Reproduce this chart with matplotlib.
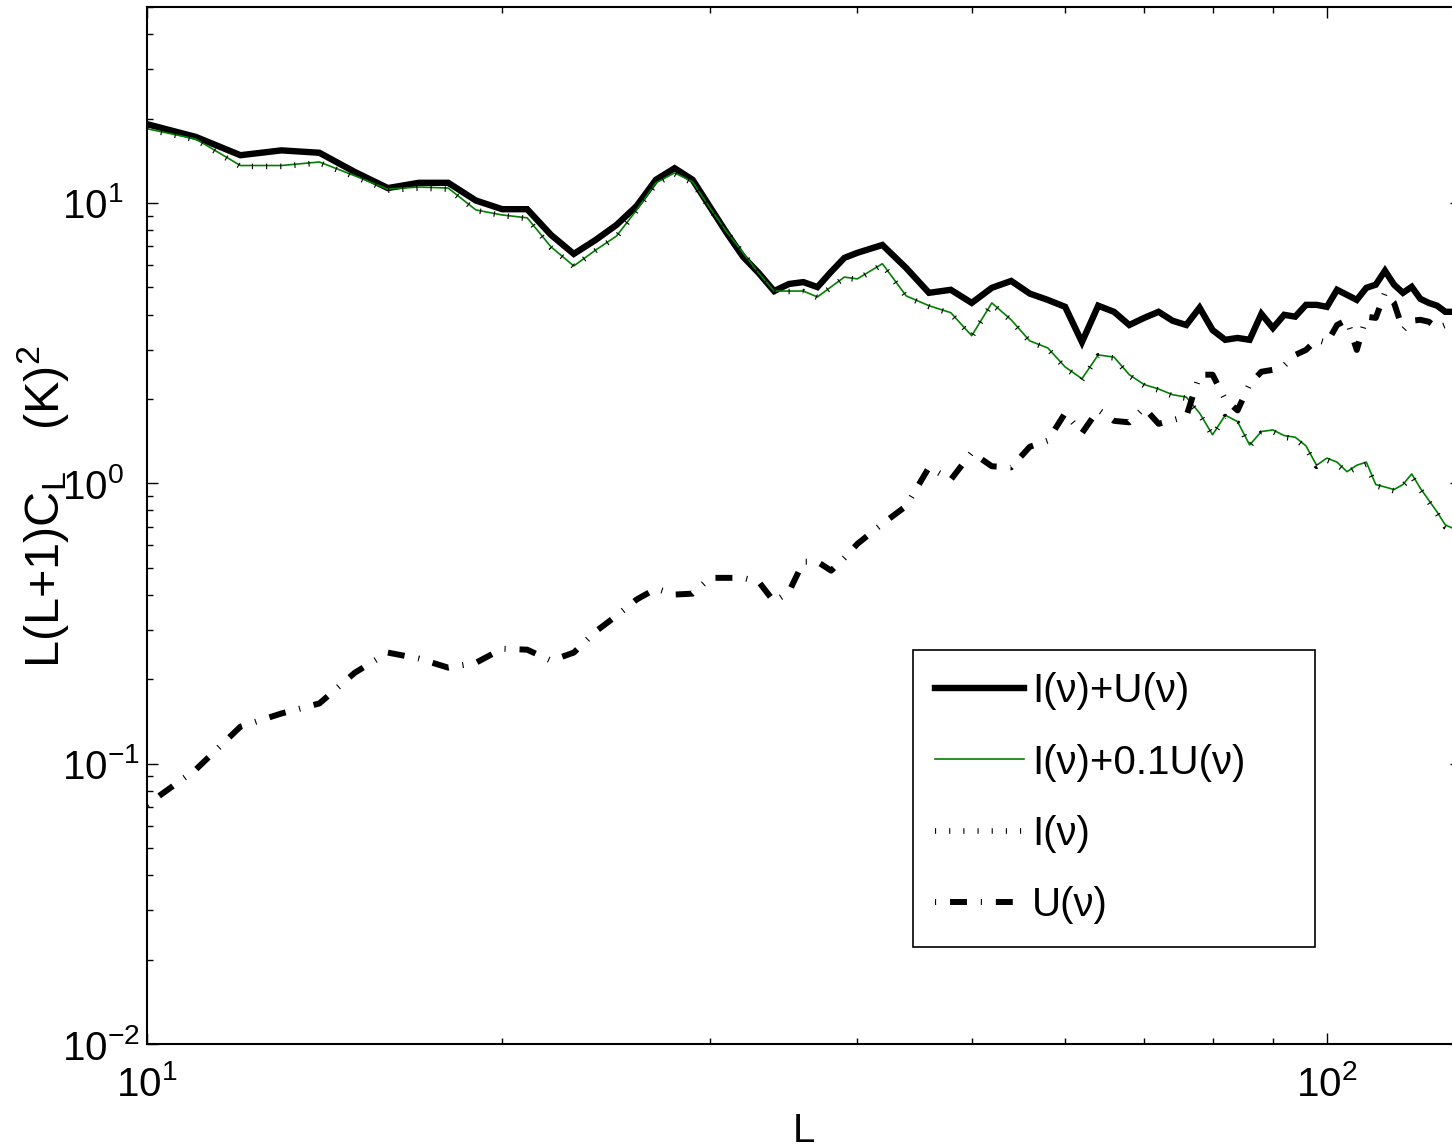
import numpy as np
import matplotlib
matplotlib.use("Agg")
import matplotlib.pyplot as plt

plt.rcParams['font.family'] = ['Liberation Sans', 'DejaVu Sans']
plt.rcParams['mathtext.fontset'] = 'custom'
plt.rcParams['mathtext.rm'] = 'Liberation Sans'
plt.rcParams['mathtext.it'] = 'Liberation Sans:italic'
plt.rcParams['mathtext.default'] = 'regular'
plt.rcParams['lines.scale_dashes'] = False

# multipoles: every L up to 40, every second L above
L = np.concatenate([np.arange(10, 41), np.arange(42, 129, 2)])

# L(L+1)C_L for the total map
cl_IU = [19.1, 17.2, 14.8, 15.4, 15.1, 12.9, 11.3, 11.8, 11.8, 10.2,
         9.5, 9.5, 7.69, 6.58, 7.38, 8.35, 9.75, 12.1, 13.3, 12.1,
         9.68, 7.81, 6.43, 5.62, 4.85, 5.14, 5.22, 5.01, 5.68, 6.37,
         6.64,
         7.08, 5.86, 4.78, 4.90, 4.40, 4.98, 5.27, 4.75, 4.51, 4.26,
         3.19, 4.30, 4.09, 3.67, 3.89, 4.09, 3.80, 3.67, 4.23, 3.52,
         3.25, 3.30, 3.25, 4.02, 3.58, 3.99, 3.93, 4.33, 4.33, 4.26,
         4.90, 4.70, 4.51, 4.98, 5.11, 5.73, 5.11, 4.78, 5.02, 4.55,
         4.40, 4.30, 4.09, 4.09]

# intensity plus a tenth of the polarised part
cl_I01U = [18.4, 16.9, 13.6, 13.6, 14.0, 12.5, 11.2, 11.4, 11.3, 9.44,
           9.06, 8.85, 6.97, 5.96, 6.79, 7.62, 9.44, 11.8, 12.8, 11.9,
           9.6, 7.88, 6.64, 5.62, 4.85, 4.85, 4.85, 4.62, 5.02, 5.44,
           5.36,
           6.07, 4.66, 4.30, 4.06, 3.36, 4.40, 3.83, 3.22, 3.04, 2.60,
           2.36, 2.87, 2.82, 2.44, 2.25, 2.17, 2.07, 2.03, 1.78, 1.49,
           1.75, 1.66, 1.37, 1.53, 1.55, 1.48, 1.46, 1.36, 1.16, 1.23,
           1.19, 1.10, 1.16, 1.19, 0.99, 0.97, 0.95, 0.99, 1.08, 0.96,
           0.87, 0.79, 0.71, 0.69]

# intensity only
cl_I = [18.3, 16.8, 13.5, 13.5, 13.9, 12.4, 11.1, 11.3, 11.2, 9.40,
        9.02, 8.80, 6.93, 5.93, 6.76, 7.58, 9.40, 11.7, 12.7, 11.8,
        9.55, 7.85, 6.61, 5.60, 4.83, 4.83, 4.83, 4.60, 5.00, 5.41,
        5.33,
        6.03, 4.63, 4.27, 4.03, 3.34, 4.37, 3.80, 3.20, 3.02, 2.58,
        2.34, 2.85, 2.80, 2.42, 2.23, 2.15, 2.05, 2.01, 1.76, 1.48,
        1.73, 1.64, 1.36, 1.51, 1.53, 1.46, 1.44, 1.34, 1.15, 1.21,
        1.17, 1.09, 1.14, 1.17, 0.98, 0.96, 0.94, 0.98, 1.06, 0.95,
        0.86, 0.78, 0.70, 0.68]

# polarised part only
cl_U = [0.0714, 0.0953, 0.1355, 0.151, 0.164, 0.211, 0.249, 0.237, 0.220, 0.229,
        0.257, 0.255, 0.233, 0.249, 0.296, 0.337, 0.385, 0.421, 0.401, 0.404,
        0.460, 0.460, 0.460, 0.445, 0.378, 0.410, 0.525, 0.525, 0.488, 0.542,
        0.608,
        0.717, 0.83, 1.14, 1.03, 1.29, 1.15, 1.14, 1.35, 1.42, 1.78,
        1.51, 1.83, 1.67, 1.65, 1.86, 1.63, 1.68, 1.73, 2.44, 2.44,
        1.99, 1.82, 2.26, 2.50, 2.54, 2.63, 2.87, 2.99, 3.25, 3.17,
        3.67, 3.83, 2.99, 3.93, 3.89, 4.78, 4.40, 3.52, 3.80, 3.83,
        3.77, 3.58, 3.67, 3.89]

fs = 29

fig = plt.figure(figsize=(14.52, 11.46), dpi=100)
ax = fig.add_axes([0.10124, 0.0890, 0.9052, 0.9049])

ax.loglog(L, cl_IU, color='k', lw=4.6, solid_joinstyle='miter', label=u'I(\u03bd)+U(\u03bd)')
ax.loglog(L, cl_I01U, color='#008000', lw=1.2, label=u'I(\u03bd)+0.1U(\u03bd)')
ax.loglog(L, cl_I, color='k', lw=4.0, linestyle=(0, (0.8, 9.4)), label=u'I(\u03bd)')
ax.loglog(L, cl_U, color='k', lw=4.3, linestyle=(0, (0.8, 10.0, 12.2, 10.0)), label=u'U(\u03bd)')

ax.set_xlim(10, 130)
ax.set_ylim(1e-2, 50)

ax.tick_params(which='both', direction='in', top=True, right=True, labelsize=fs, width=1.0)
ax.tick_params(which='major', length=8)
ax.tick_params(which='minor', length=4.3)
ax.tick_params(axis='x', which='major', pad=15)
# y labels start at a common left edge
ax.tick_params(axis='y', which='major', pad=61)
for lab in ax.get_yticklabels():
    lab.set_horizontalalignment('left')
for s in ax.spines.values():
    s.set_linewidth(1.5)

ax.set_xlabel('L', fontsize=fs, labelpad=6)
ax.set_ylabel(r'L(L+1)C$_\mathrm{L}$   (K)$^2$', fontsize=35)
ax.yaxis.set_label_coords(-0.058, 0.518)

leg = ax.legend(loc='upper left', bbox_to_anchor=(0.6288, 0.1710, 0.2769, 0.2618),
                bbox_transform=fig.transFigure, mode='expand', borderaxespad=0,
                fontsize=fs, handlelength=2.2, handletextpad=0.2,
                labelspacing=0.83, borderpad=0.55, fancybox=False, framealpha=1)
leg.get_frame().set_edgecolor('k')
leg.get_frame().set_linewidth(1.2)

fig.savefig('out.png', dpi=100)
